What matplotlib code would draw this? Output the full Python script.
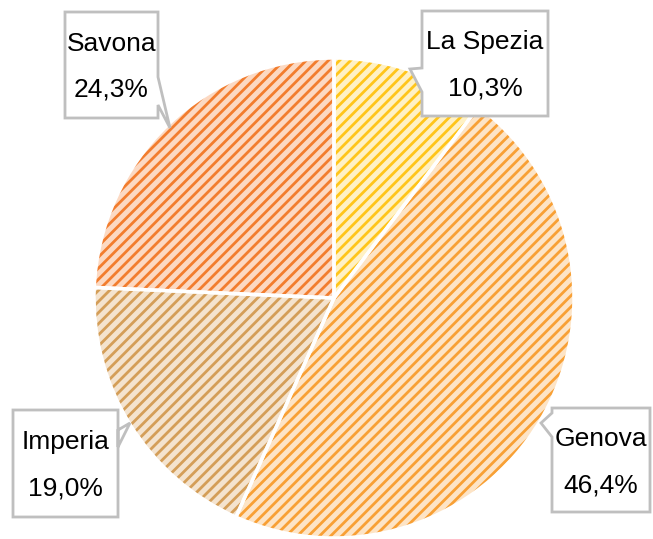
import matplotlib
matplotlib.use("Agg")
import matplotlib.pyplot as plt
from matplotlib import font_manager
from matplotlib.patches import Polygon

labels = ["La Spezia", "Genova", "Imperia", "Savona"]
values = [10.3, 46.4, 19.0, 24.3]
face_colors = ["#FFF1C4", "#FDE4C6", "#F4E3CE", "#FCD9C2"]
hatch_colors = ["#FFC51A", "#F8A035", "#D49E58", "#F27D2E"]

names = {f.name for f in font_manager.fontManager.ttflist}
fam = [n for n in ["Liberation Sans Narrow", "Liberation Sans", "DejaVu Sans"] if n in names]

W, H = 653, 539
fig = plt.figure(figsize=(W / 100, H / 100), dpi=100)
ax = fig.add_axes([0, 0, 1, 1])

plt.rcParams["hatch.linewidth"] = 2.0
cx, cy, r = 334, H - 298, 240

wedges, _ = ax.pie(values, startangle=90, counterclock=False, center=(cx, cy),
                   radius=r, frame=True)
for w, fc, hc in zip(wedges, face_colors, hatch_colors):
    w.set_facecolor(fc)
    w.set_edgecolor(hc)
    w.set_linewidth(0)
    w.set_hatch("///")
ax.pie(values, startangle=90, counterclock=False, center=(cx, cy),
       radius=r, frame=True,
       wedgeprops=dict(fill=False, edgecolor="white", linewidth=2.5))
ax.set_xlim(0, W)
ax.set_ylim(0, H)
ax.set_aspect("equal")
ax.axis("off")

# callout boxes in pixel coordinates (top-left origin)
boxes = {
    "La Spezia": dict(box=(422, 11, 548, 116), ptr=[(422, 68), (410, 69), (422, 92)], side="left"),
    "Genova": dict(box=(552, 408, 650, 512), ptr=[(552, 413), (541, 423), (552, 437)], side="left"),
    "Imperia": dict(box=(13, 410, 118, 517), ptr=[(118, 447), (130, 423), (118, 430)], side="right"),
    "Savona": dict(box=(65, 12, 158, 118), ptr=[(158, 77), (170, 128), (158, 105)], side="right"),
}

for lab, val in zip(labels, values):
    b = boxes[lab]
    x0, y0, x1, y1 = b["box"]
    p = b["ptr"]
    if b["side"] == "left":
        pts = [(x0, y0), (x1, y0), (x1, y1), (x0, y1)] + [p[2], p[1], p[0]]
    else:
        pts = [(x0, y0), (x1, y0)] + [p[0], p[1], p[2]] + [(x1, y1), (x0, y1)]
    pts = [(x, H - y) for x, y in pts]
    ax.add_patch(Polygon(pts, closed=True, facecolor="white", edgecolor="#BFBFBF",
                         linewidth=2, zorder=5))
    xc = (x0 + x1) / 2
    yc = (y0 + y1) / 2
    ax.text(xc, H - (yc - 21), lab, ha="center", va="center", fontsize=19,
            family=fam, zorder=6, color="black")
    ax.text(xc, H - (yc + 25), f"{val:.1f}%".replace(".", ","), ha="center",
            va="center", fontsize=19, family=fam, zorder=6, color="black")

fig.savefig("out.png", dpi=100)
